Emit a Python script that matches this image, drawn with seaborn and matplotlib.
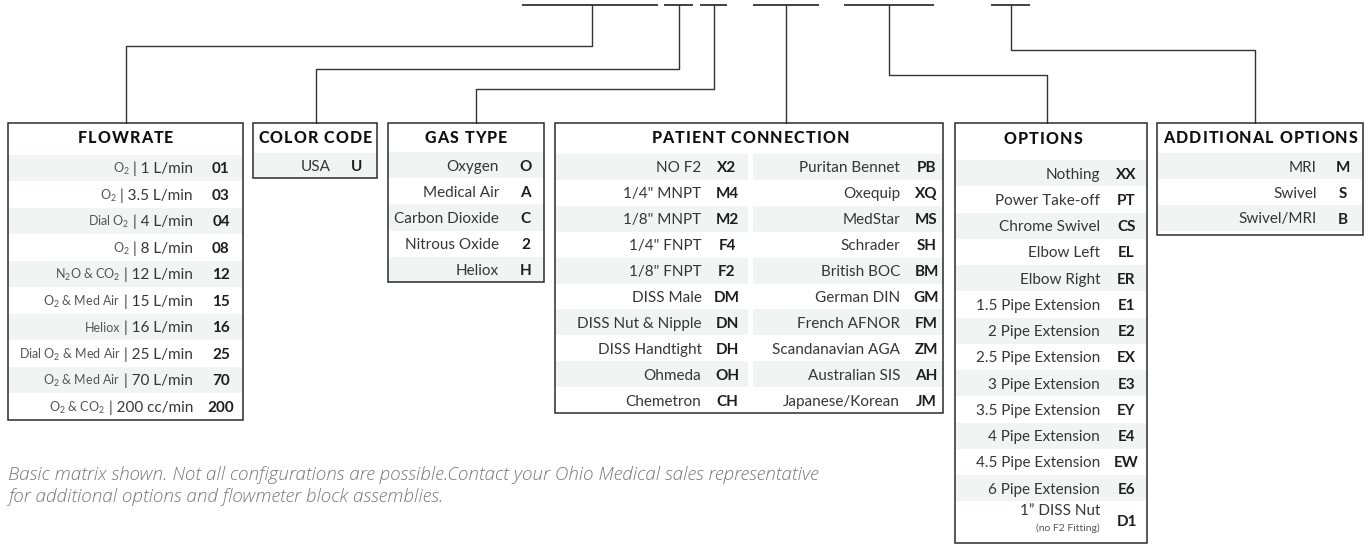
import numpy as np
import pandas as pd
import matplotlib
matplotlib.use("Agg")
import matplotlib.pyplot as plt
import seaborn as sns
from matplotlib.patches import Rectangle
from matplotlib.font_manager import FontProperties, findfont, get_font

# ==========================================
# Data (table contents)
# ==========================================
titles = ["FLOWRATE", "COLOR CODE", "GAS TYPE", "PATIENT CONNECTION", "OPTIONS", "ADDITIONAL OPTIONS"]

flow_gas = ["O$_2$", "O$_2$", "Dial O$_2$", "O$_2$", "N$_2$O & CO$_2$", "O$_2$ & Med Air",
            "Heliox", "Dial O$_2$ & Med Air", "O$_2$ & Med Air", "O$_2$ & CO$_2$"]
flow_rate = ["1 L/min", "3.5 L/min", "4 L/min", "8 L/min", "12 L/min", "15 L/min",
             "16 L/min", "25 L/min", "70 L/min", "200 cc/min"]
flow_code = ["01", "03", "04", "08", "12", "15", "16", "25", "70", "200"]

color_label = ["USA"]
color_code = ["U"]

gas_label = ["Oxygen", "Medical Air", "Carbon Dioxide", "Nitrous Oxide", "Heliox"]
gas_code = ["O", "A", "C", "2", "H"]

pc_left_label = ["NO F2", '1/4" MNPT', '1/8" MNPT', '1/4" FNPT', '1/8" FNPT', "DISS Male",
                 "DISS Nut & Nipple", "DISS Handtight", "Ohmeda", "Chemetron"]
pc_left_code = ["X2", "M4", "M2", "F4", "F2", "DM", "DN", "DH", "OH", "CH"]
pc_right_label = ["Puritan Bennet", "Oxequip", "MedStar", "Schrader", "British BOC", "German DIN",
                  "French AFNOR", "Scandanavian AGA", "Australian SIS", "Japanese/Korean"]
pc_right_code = ["PB", "XQ", "MS", "SH", "BM", "GM", "FM", "ZM", "AH", "JM"]

opt_label = ["Nothing", "Power Take-off", "Chrome Swivel", "Elbow Left", "Elbow Right",
             "1.5 Pipe Extension", "2 Pipe Extension", "2.5 Pipe Extension", "3 Pipe Extension",
             "3.5 Pipe Extension", "4 Pipe Extension", "4.5 Pipe Extension", "6 Pipe Extension",
             "1\u201d DISS Nut"]
opt_code = ["XX", "PT", "CS", "EL", "ER", "E1", "E2", "EX", "E3", "EY", "E4", "EW", "E6", "D1"]
opt_note = "(no F2 Fitting)"

add_label = ["MRI", "Swivel", "Swivel/MRI"]
add_code = ["M", "S", "B"]

footnote = ["Basic matrix shown. Not all configurations are possible.Contact your Ohio Medical sales representative",
            "for additional options and flowmeter block assemblies."]

# ==========================================
# Style
# ==========================================
sns.set_theme(style="white")
plt.rcParams["font.family"] = ["Lato", "DejaVu Sans"]
plt.rcParams["mathtext.default"] = "regular"

EDGE = "#2b2b2b"
LINE = "#333333"
SHADE = "#f2f3f3"
TXT = "#363636"
SUB = "#555555"
CODE = "#1e1e1e"
LBL_FS = 11
CODE_FS = 11
TITLE_FS = 11.5

fig = plt.figure(figsize=(13.64, 5.44), dpi=100)
ax = fig.add_axes([0, 0, 1, 1])

# ==========================================
# Connectors (layout in pixels)
# ==========================================
top_segments = [(522, 658), (664, 693), (700, 727), (753, 819), (844, 934), (991, 1030)]
links = {
    "flow": [(591.5, 5), (591.5, 46), (126, 46), (126, 123)],
    "color": [(678.5, 5), (678.5, 69), (315.5, 69), (315.5, 123)],
    "gas": [(713.5, 5), (713.5, 89), (476, 89), (476, 123)],
    "patient": [(786, 5), (786, 123)],
    "options": [(889, 5), (889, 75), (1046.5, 75), (1046.5, 123)],
    "additional": [(1010.5, 5), (1010.5, 50), (1255, 50), (1255, 123)],
}
conn = pd.DataFrame([(k, i, x, y) for k, pts in links.items() for i, (x, y) in enumerate(pts)],
                    columns=["link", "order", "x", "y"])
sns.lineplot(data=conn, x="x", y="y", units="link", estimator=None, sort=False,
             color=LINE, lw=1.0, ax=ax, legend=False)
for a, b in top_segments:
    ax.plot([a, b], [5, 5], color=LINE, lw=1.3, solid_capstyle="butt")
ax.set_xlim(0, 1364)
ax.set_ylim(544, 0)
ax.axis("off")
renderer = fig.canvas.get_renderer()


# ==========================================
# Helpers
# ==========================================
def box(x0, x1, y0, y1):
    ax.add_patch(Rectangle((x0, y0), x1 - x0, y1 - y0, fill=False, ec=EDGE, lw=1.1, zorder=4))


def shade(x0, x1, top, step, n):
    for i in range(0, n, 2):
        ax.add_patch(Rectangle((x0, top + i * step), x1 - x0, step, fc=SHADE, ec="none", zorder=1))


title_prop = FontProperties(family="Lato", weight="black", size=TITLE_FS)
title_font = get_font(findfont(title_prop))
title_font.set_size(TITLE_FS, 100)


def title(xc, y, s, spacing=1.1):
    # letter-spaced title, one glyph at a time
    adv = [title_font.load_char(ord(c)).linearHoriAdvance / 65536 for c in s]
    total = sum(adv) + spacing * (len(s) - 1)
    x = xc - total / 2
    for c, a in zip(s, adv):
        ax.text(x, y, c, ha="left", va="baseline", fontproperties=title_prop,
                color="#111111", zorder=5)
        x += a + spacing


def rows(labels, codes, top, step, x_lab, x_code):
    for i, (lab, cd) in enumerate(zip(labels, codes)):
        yb = top + (i + 0.5) * step + 5.5
        ax.text(x_lab, yb, lab, ha="right", va="baseline", fontsize=LBL_FS, color=TXT, zorder=5)
        ax.text(x_code, yb, cd, ha="center", va="baseline", fontsize=CODE_FS,
                fontweight="bold", color=CODE, zorder=5)


# ---- FLOWRATE ----
box(8.3, 242.7, 122.7, 420)
shade(8.3, 242.7, 154.5, 26.5, 10)
title(125.5, 143, titles[0])
for i, (g, r, cd) in enumerate(zip(flow_gas, flow_rate, flow_code)):
    yb = 154.5 + (i + 0.5) * 26.5 + 5.5
    t = ax.text(193, yb, "| " + r, ha="right", va="baseline", fontsize=LBL_FS, color=TXT, zorder=5)
    x_left = t.get_window_extent(renderer).x0
    ax.text(x_left - 3.5, yb, g, ha="right", va="baseline", fontsize=9, color=SUB, zorder=5)
    ax.text(221, yb, cd, ha="center", va="baseline", fontsize=CODE_FS, fontweight="bold",
            color=CODE, zorder=5)

# ---- COLOR CODE ----
box(252.7, 377, 122.7, 178)
shade(252.7, 377, 153, 25, 1)
title(315, 143, titles[1])
rows(color_label, color_code, 153, 25, 331, 357)

# ---- GAS TYPE ----
box(387.7, 544, 122.7, 282)
shade(387.7, 544, 152, 26.2, 5)
title(466, 143, titles[2])
rows(gas_label, gas_code, 152, 26.2, 499, 525.5)

# ---- PATIENT CONNECTION ----
box(555, 943, 122.7, 412.7)
shade(555, 748, 154, 25.9, 10)
shade(753, 943, 154, 25.9, 10)
title(750, 143, titles[3])
rows(pc_left_label, pc_left_code, 154, 25.9, 701.5, 727)
rows(pc_right_label, pc_right_code, 154, 25.9, 900, 926.5)

# ---- OPTIONS ----
box(955, 1147, 122.7, 543)
shade(955, 1147, 160, 26.25, 13)
title(1043, 144, titles[4])
rows(opt_label[:-1], opt_code[:-1], 160, 26.25, 1100, 1126.5)
ax.text(1100, 515, opt_label[-1], ha="right", va="baseline", fontsize=LBL_FS, color=TXT, zorder=5)
ax.text(1100, 531, opt_note, ha="right", va="baseline", fontsize=7.5, color=SUB, zorder=5)
ax.text(1126.5, 525.5, opt_code[-1], ha="center", va="baseline", fontsize=CODE_FS,
        fontweight="bold", color=CODE, zorder=5)

# ---- ADDITIONAL OPTIONS ----
box(1157, 1363, 122.7, 235)
shade(1157, 1363, 153, 26, 3)
title(1260.5, 143, titles[5])
rows(add_label, add_code, 153, 26, 1316.5, 1343)

# ---- footnote (first line sized to run from x=8 to about x=821) ----
notes = [ax.text(8, 480.5 + k * 21, line, ha="left", va="baseline", fontsize=11,
                 family=["Open Sans", "DejaVu Sans"], style="italic", fontweight="light",
                 color="#777777") for k, line in enumerate(footnote)]
w = notes[0].get_window_extent(renderer).width
for t in notes:
    t.set_fontsize(11 * 813 / w)

fig.savefig("out.png", dpi=100, facecolor="white")
